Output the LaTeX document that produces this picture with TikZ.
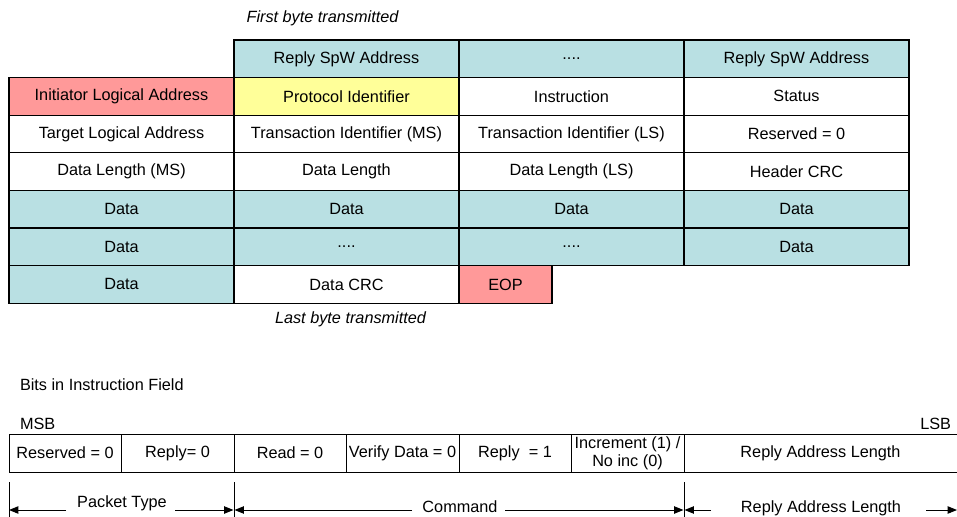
\documentclass[tikz,border=0pt]{standalone}
\usepackage{fontspec}
\setmainfont{Liberation Sans}
\usetikzlibrary{arrows.meta}
\definecolor{tealc}{RGB}{185,224,227}
\definecolor{pinkc}{RGB}{255,153,153}
\definecolor{yellowc}{RGB}{255,255,153}
\tikzset{
  cell/.style={draw=black, line width=0.95pt, anchor=north west, minimum width=225\pxu, minimum height=37.6\pxu, inner sep=0pt, outer sep=0pt, font=\fs},
  bitcell/.style={draw=black, line width=0.75pt, anchor=north west, minimum height=38\pxu, inner sep=0pt, outer sep=0pt, font=\fs, align=center},
  lbl/.style={inner sep=0pt, outer sep=0pt, font=\fs},
  arr/.style={line width=0.75pt, -{Triangle[length=7pt,width=5.5pt]}},
  tick/.style={line width=0.75pt}
}
\newcommand{\fs}{\fontsize{12.2}{13.5}\selectfont}
\newlength{\pxu}\setlength{\pxu}{0.75pt}
\begin{document}
\begin{tikzpicture}[x=0.75pt,y=-0.75pt]
\useasboundingbox (0,0) rectangle (957,517);
% labels
\node[lbl, font=\fs\itshape] (first) at (322.5,18) {First byte transmitted};
\node[lbl, font=\fs\itshape] (last) at (350.5,319) {Last byte transmitted};
% row 0
\node[cell, fill=tealc] (r0c1) at (234,40) {Reply SpW Address};
\node[cell, fill=tealc] (r0c2) at (459,40) {....};
\node[cell, fill=tealc] (r0c3) at (684,40) {Reply SpW Address};
% row 1
\node[cell, fill=pinkc] (r1c0) at (9,77.6) {Initiator Logical Address};
\node[cell, fill=yellowc] (r1c1) at (234,77.6) {Protocol Identifier};
\node[cell, fill=white] (r1c2) at (459,77.6) {Instruction};
\node[cell, fill=white] (r1c3) at (684,77.6) {Status};
% row 2
\node[cell] (r2c0) at (9,115.2) {Target Logical Address};
\node[cell] (r2c1) at (234,115.2) {Transaction Identifier (MS)};
\node[cell] (r2c2) at (459,115.2) {Transaction Identifier (LS)};
\node[cell] (r2c3) at (684,115.2) {Reserved = 0};
% row 3
\node[cell] (r3c0) at (9,152.8) {Data Length (MS)};
\node[cell] (r3c1) at (234,152.8) {Data Length};
\node[cell] (r3c2) at (459,152.8) {Data Length (LS)};
\node[cell] (r3c3) at (684,152.8) {Header CRC};
% row 4
\node[cell, fill=tealc] (r4c0) at (9,190.4) {Data};
\node[cell, fill=tealc] (r4c1) at (234,190.4) {Data};
\node[cell, fill=tealc] (r4c2) at (459,190.4) {Data};
\node[cell, fill=tealc] (r4c3) at (684,190.4) {Data};
% row 5
\node[cell, fill=tealc] (r5c0) at (9,228) {Data};
\node[cell, fill=tealc] (r5c1) at (234,228) {....};
\node[cell, fill=tealc] (r5c2) at (459,228) {....};
\node[cell, fill=tealc] (r5c3) at (684,228) {Data};
% row 6
\node[cell, fill=tealc] (r6c0) at (9,265.6) {Data};
\node[cell] (r6c1) at (234,265.6) {Data CRC};
\node[cell, fill=pinkc, minimum width=93\pxu] (eop) at (459,265.6) {EOP};
% bits
\node[lbl, anchor=west] (bits) at (20,385) {Bits in Instruction Field};
\node[lbl, anchor=west] (msb) at (20,424) {MSB};
\node[lbl, anchor=east] (lsb) at (951,424) {LSB};
\node[bitcell, minimum width=112\pxu] (b7) at (9,434) {Reserved = 0};
\node[bitcell, minimum width=113\pxu] (b6) at (121,434) {Reply= 0};
\node[bitcell, minimum width=112\pxu] (b5) at (234,434) {Read = 0};
\node[bitcell, minimum width=113\pxu] (b4) at (346,434) {Verify Data = 0};
\node[bitcell, minimum width=112\pxu] (b3) at (459,434) {Reply~ = 1};
\node[bitcell, minimum width=113\pxu, font=\fontsize{12.2}{13.6}\selectfont] (b2) at (571,434) {Increment (1) /\\No inc (0)};
\node[bitcell, draw=none, minimum width=273\pxu] (b10) at (684,434) {Reply Address Length};
\draw[line width=0.75pt] (b10.north west) -- (b10.north east);
\draw[line width=0.75pt] (b10.south west) -- (b10.south east);
% ticks
\coordinate (t0a) at (9,482); \coordinate (t0b) at (9,517);
\coordinate (t1a) at (234,482); \coordinate (t1b) at (234,517);
\coordinate (t2a) at (684,482); \coordinate (t2b) at (684,517);
\draw[tick] (t0a) -- (t0b);
\draw[tick] (t1a) -- (t1b);
\draw[tick] (t2a) -- (t2b);
% arrow labels
\node[lbl] (pt) at (122,503) {Packet Type};
\node[lbl] (cmd) at (460,507) {Command};
\node[lbl] (ral) at (821,508) {Reply Address Length};
\coordinate (pa1) at (66,510); \coordinate (pa2) at (175,510);
\coordinate (ca1) at (412,510); \coordinate (ca2) at (505,510);
\coordinate (ra1) at (711,510); \coordinate (ra2) at (926,510);
\draw[arr] (pa1) -- (t0a |- pa1);
\draw[arr] (pa2) -- ([xshift=-0.4pt]t1a |- pa2);
\draw[arr] (ca1) -- ([xshift=0.4pt]t1a |- ca1);
\draw[arr] (ca2) -- ([xshift=-0.4pt]t2a |- ca2);
\draw[arr] (ra1) -- ([xshift=0.4pt]t2a |- ra1);
\coordinate (rend) at (957,510);
\draw[arr] (ra2) -- (rend);
\end{tikzpicture}
\end{document}
